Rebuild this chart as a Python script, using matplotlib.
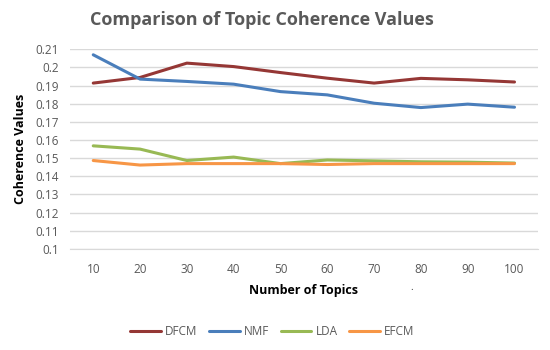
import matplotlib.pyplot as plt
import numpy as np

plt.rcParams['font.family'] = ['Open Sans', 'DejaVu Sans']

topics = [10, 20, 30, 40, 50, 60, 70, 80, 90, 100]
dfcm = [0.1914, 0.1945, 0.2024, 0.2005, 0.1972, 0.1941, 0.1914, 0.1940, 0.1932, 0.1920]
nmf = [0.2070, 0.1936, 0.1923, 0.1908, 0.1867, 0.1849, 0.1803, 0.1779, 0.1798, 0.1781]
lda = [0.1568, 0.1550, 0.1487, 0.1506, 0.1470, 0.1490, 0.1485, 0.1480, 0.1478, 0.1473]
efcm = [0.1487, 0.1462, 0.1470, 0.1470, 0.1470, 0.1465, 0.1470, 0.1470, 0.1470, 0.1470]
yticks = [0.1, 0.11, 0.12, 0.13, 0.14, 0.15, 0.16, 0.17, 0.18, 0.19, 0.2, 0.21]
ytick_labels = ['0.1', '0.11', '0.12', '0.13', '0.14', '0.15', '0.16', '0.17', '0.18', '0.19', '0.2', '0.21']

fig = plt.figure(figsize=(5.5, 3.5), dpi=100)
ax = fig.add_axes([0.127, 0.289, 0.851, 0.570])

x = np.arange(len(topics))
ax.plot(x, dfcm, color='#953735', lw=2.2, label='DFCM', solid_capstyle='round')
ax.plot(x, nmf, color='#4a7ebb', lw=2.2, label='NMF', solid_capstyle='round')
ax.plot(x, lda, color='#98b954', lw=2.2, label='LDA', solid_capstyle='round')
ax.plot(x, efcm, color='#f79646', lw=2.2, label='EFCM', solid_capstyle='round')

ax.set_xlim(-0.5, len(topics) - 0.5)
ax.set_ylim(0.1, 0.21)
ax.set_yticks(yticks)
ax.set_yticklabels(ytick_labels)
ax.set_xticks(x)
ax.set_xticklabels([str(t) for t in topics])
ax.grid(axis='y', color='#d9d9d9', lw=1)
ax.set_axisbelow(True)
for s in ['top', 'right', 'left']:
    ax.spines[s].set_visible(False)
ax.spines['bottom'].set_color('#d9d9d9')
ax.tick_params(length=0, labelsize=8.5, labelcolor='#595959', pad=10)
ax.tick_params(axis='y', pad=8)

ax.set_xlabel('Number of Topics', fontsize=9, fontweight='bold', labelpad=6)
ax.set_ylabel('Coherence Values', fontsize=9, fontweight='bold', labelpad=6)
fig.text(0.477, 0.942, 'Comparison of Topic Coherence Values', ha='center', va='center',
         fontsize=13, fontweight='bold', color='#595959')
# stray dot below the x labels in the original
fig.text(0.749, 0.18, '.', ha='center', va='center', fontsize=7, color='#333333')

fig.legend(loc='center', bbox_to_anchor=(0.495, 0.052), ncol=4, frameon=False,
           fontsize=8.5, handlelength=2.6, handletextpad=0.35, columnspacing=1.0,
           labelcolor='#595959')

fig.savefig('out.png', dpi=100)
